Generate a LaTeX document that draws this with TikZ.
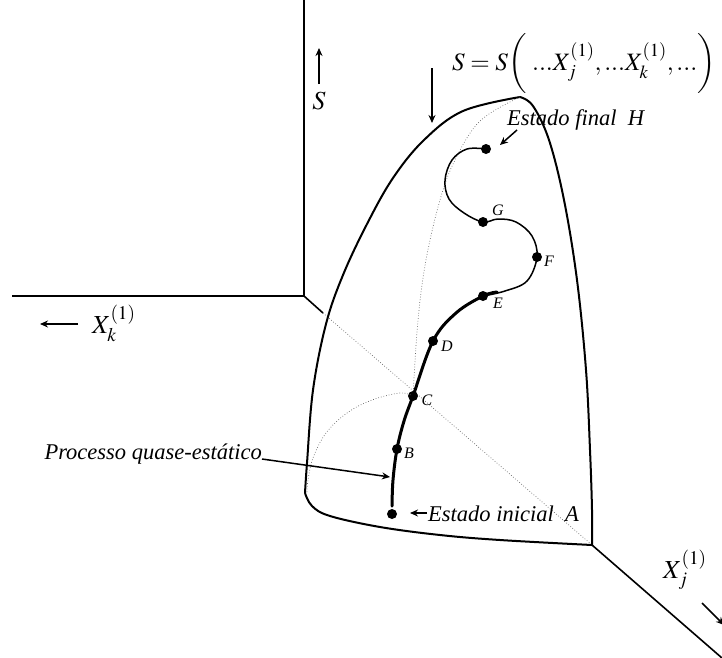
\documentclass[tikz,border=0pt]{standalone}
\usepackage{mathptmx}
\usepackage{fontspec}
\setmainfont{Liberation Serif}
\usetikzlibrary{arrows.meta}
\tikzset{
  axisline/.style={line width=1.6pt},
  surf/.style={line width=2pt, line join=round},
  thickpath/.style={line width=3pt, line cap=round},
  thinpath/.style={line width=1.5pt},
  guide/.style={line width=0.7pt, dotted, black!60},
  dot/.style={circle, fill=black, inner sep=0pt, minimum size=10pt},
  arr/.style={line width=1.5pt, -{Stealth[length=8pt,width=7pt]}},
  ptlabel/.style={font=\fontsize{16}{18}\selectfont\itshape, inner sep=0pt},
  txt/.style={font=\fontsize{22.5}{26}\selectfont\itshape, inner sep=0pt},
  mathlbl/.style={font=\fontsize{26}{30}\selectfont, inner sep=0pt},
  eqlbl/.style={font=\fontsize{25}{30}\selectfont, inner sep=0pt}
}
\begin{document}
\begin{tikzpicture}[x=1pt,y=-1pt]
\useasboundingbox (0,0) rectangle (722,657);

% axes
\coordinate (O) at (304,296);
\coordinate (Ztop) at (304,0);
\coordinate (Kend) at (12,296);
\coordinate (D1) at (323,313);
\coordinate (Corner) at (592,545);
\coordinate (Jend) at (722,658);
\draw[axisline] (Ztop) -- (O) -- (Kend);
\draw[axisline] (O) -- (D1);
\draw[guide] (D1) -- (Corner);
\draw[axisline] (Corner) -- (Jend);

% surface outline
\coordinate (Peak) at (520,97);
\coordinate (BL) at (305,493);
\draw[surf] plot[smooth, tension=0.6] coordinates {(BL) (307,463) (313,390) (326,324) (343,275) (367,224) (393,178) (424,140) (463,111) (Peak)};
\draw[surf] plot[smooth, tension=0.6] coordinates {(Peak) (533,106) (549,140) (564,200) (577,280) (586,370) (590,450) (592,510) (Corner)};
\draw[surf] plot[smooth, tension=0.6] coordinates {(Corner) (500,540) (440,535) (380,527) (330,516) (312,506) (BL)};

% points
\node[dot] (A) at (392,514) {};
\node[dot] (B) at (397,449) {};
\node[dot] (C) at (413,396) {};
\node[dot] (D) at (433,341) {};
\node[dot] (E) at (483,296) {};
\node[dot] (F) at (537,257) {};
\node[dot] (G) at (483,222) {};
\node[dot] (H) at (486,149) {};

% dotted guide curves
\draw[guide] plot[smooth, tension=0.6] coordinates {(Peak) (480,121) (455,160) (440,200) (426,260) (418,320) (C.center)};
\draw[guide] plot[smooth, tension=0.6] coordinates {(C.center) (400,393) (372,400) (347,413) (326,433) (313,458) (308,480) (307,492)};

% process path
\draw[thickpath] plot[smooth, tension=0.6] coordinates {(392,506) (393,480) (B.center) (404,421) (C.center) (D.center) (456,313) (E.center) (497,292)};
\draw[thinpath] plot[smooth, tension=0.6] coordinates {(E.center) (505,291) (527,281) (F.center) (532,236) (516,222) (498,219) (G.center) (464,213) (449,199) (445,180) (452,160) (467,149) (H.center)};

% point labels
\node[ptlabel, anchor=center] (Bl) at (409,453) {B};
\node[ptlabel, anchor=center] (Cl) at (427,400) {C};
\node[ptlabel, anchor=center] (Dl) at (447,346) {D};
\node[ptlabel, anchor=center] (El) at (498,303) {E};
\node[ptlabel, anchor=center] (Fl) at (549,261) {F};
\node[ptlabel, anchor=center] (Gl) at (498,210) {G};

% axis labels
\node[mathlbl, anchor=center] (Sl) at (319,101) {$S$};
\coordinate (SaB) at (319,84);
\coordinate (SaT) at (319,48);
\draw[arr] (SaB) -- (SaT);
\node[mathlbl, anchor=base west] (Xk) at (92,333) {$X_k^{(1)}$};
\coordinate (KaR) at (78,324);
\coordinate (KaL) at (40,324);
\draw[arr] (KaR) -- (KaL);
\node[mathlbl, anchor=base west] (Xj) at (663,578) {$X_j^{(1)}$};
\coordinate (JaA) at (702,603);
\coordinate (JaB) at (724,625);
\draw[arr] (JaA) -- (JaB);

% equation
\node[eqlbl, anchor=base west] (Eq) at (452,70) {$S=S\bigg(\;...X_j^{(1)},...X_k^{(1)},...\bigg)$};
\coordinate (DaT) at (432,68);
\coordinate (DaB) at (432,123);
\draw[arr] (DaT) -- (DaB);

% texts with arrows
\node[txt, anchor=base west] (Fin) at (507,125) {Estado final\ \ H};
\coordinate (FinA) at (517,130);
\coordinate (FinT) at (500,145);
\draw[arr] (FinA) -- (FinT);
\node[txt, anchor=base east] (Proc) at (262,459) {Processo quase-estático};
\coordinate (ProcT) at (390,477);
\draw[arr] (Proc.base east) -- (ProcT);
\node[txt, anchor=base west] (Ini) at (428,521) {Estado inicial\ \ A};
\coordinate (IniA) at (427,513);
\coordinate (IniT) at (410,513);
\draw[arr] (IniA) -- (IniT);
\end{tikzpicture}
\end{document}
